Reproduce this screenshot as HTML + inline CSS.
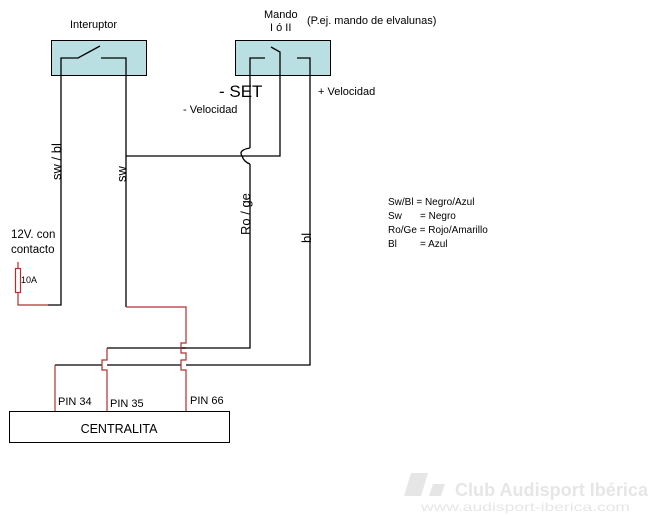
<!DOCTYPE html>
<html><head><meta charset="utf-8"><style>
body{margin:0;background:#fff;}
svg{display:block;font-family:"Liberation Sans",Arial,sans-serif;}
</style></head><body>
<svg width="650" height="515" viewBox="0 0 650 515" xmlns="http://www.w3.org/2000/svg">
<rect width="650" height="515" fill="#fff"/>
<rect x="51.5" y="40.5" width="95" height="35" fill="#b9dfe3" stroke="#000"/>
<rect x="235.5" y="40.5" width="95" height="35" fill="#b9dfe3" stroke="#000"/>
<g fill="none" stroke="#000" stroke-width="1.3">
<polyline points="61,82 61,58 78,58 100,46"/>
<polyline points="101,58 126,58 126,82"/>
<polyline points="61,82 61,305 48,305"/>
<polyline points="126,82 126,307"/>
<polyline points="265,58 250,58 250,148"/>
<path d="M250,148 Q238,150 242,156 Q244,162 250,164"/>
<polyline points="250,164 250,348 107,348"/>
<polyline points="271,47 280,52 280,156 126,156"/>
<polyline points="297,58 310,58 310,365 186,365"/>
<line x1="181" y1="365" x2="107" y2="365"/>
<line x1="102" y1="365" x2="55" y2="365"/>
<line x1="186" y1="348" x2="181" y2="348"/>
</g>
<g fill="none" stroke="#b03030" stroke-width="1.2">
<polyline points="48,305 18,305 18,292"/>
<rect x="15.5" y="268.5" width="5" height="24" />
<line x1="18" y1="262" x2="18" y2="268"/>
<polyline points="126,307 186,307 186,343 181,343 181,353 186,353 186,360 181,360 181,370 186,370 186,411"/>
<polyline points="107,348 107,360 102,360 102,370 107,370 107,411"/>
<polyline points="55,365 55,411"/>
</g>
<rect x="9.5" y="411.5" width="220" height="31" fill="#fff" stroke="#000"/>
<text x="119" y="433" font-size="12.5" text-anchor="middle">CENTRALITA</text>
<g font-size="11">
<text x="58" y="405">PIN 34</text>
<text x="110" y="407">PIN 35</text>
<text x="190" y="404">PIN 66</text>
<text x="70" y="28">Interuptor</text>
<text x="264" y="18">Mando</text>
<text x="270" y="31">I ó II</text>
<text x="307" y="24">(P.ej. mando de elvalunas)</text>
<text x="183" y="113">- Velocidad</text>
<text x="318" y="95">+ Velocidad</text>
<text x="11" y="238" font-size="11.5">12V. con</text>
<text x="11" y="253" font-size="11.5">contacto</text>
<text x="21" y="283" font-size="9">10A</text>
<text x="388" y="205" font-size="10">Sw/Bl = Negro/Azul</text>
<text x="388" y="219" font-size="10">Sw</text><text x="420" y="219" font-size="10">= Negro</text>
<text x="388" y="233" font-size="10">Ro/Ge = Rojo/Amarillo</text>
<text x="388" y="247" font-size="10">Bl</text><text x="420" y="247" font-size="10">= Azul</text>
</g>
<text x="219" y="97" font-size="17">- SET</text>
<g font-size="13">
<text transform="translate(61,180) rotate(-90)">sw / bl</text>
<text transform="translate(126,182) rotate(-90)">sw</text>
<text transform="translate(250,235) rotate(-90)">Ro / ge</text>
<text transform="translate(311,243) rotate(-90)">bl</text>
</g>
<g fill="#e6e6e6">
<polygon points="404,496 411,473 428,473 421,496"/>
<polygon points="429,496 433,484 445,484 441,496"/>
<text x="455" y="496" font-size="18" font-weight="bold" textLength="193" lengthAdjust="spacingAndGlyphs">Club Audisport Ibérica</text>
<text x="421" y="511" font-size="12" textLength="209" lengthAdjust="spacingAndGlyphs">www.audisport-iberica.com</text>
</g>
</svg>
</body></html>
